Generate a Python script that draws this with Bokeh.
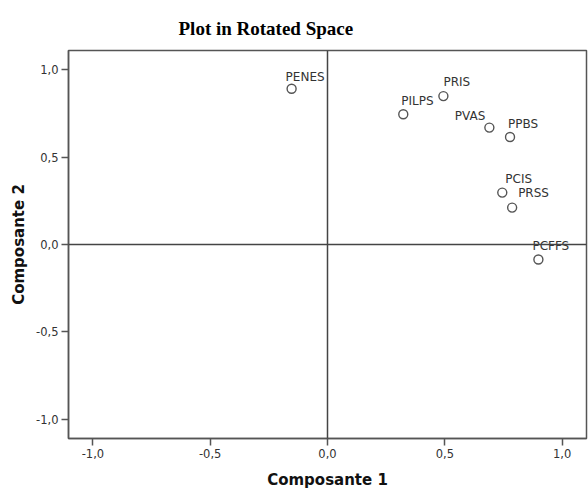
import math
from bokeh.plotting import figure
from bokeh.models import ColumnDataSource, Span, FixedTicker, CustomJSTickFormatter, Title
from bokeh.core.properties import value
from bokeh.embed import file_html
from bokeh.resources import INLINE

# ---- data (component loadings) ----
labels = ["PENES", "PRIS", "PILPS", "PVAS", "PPBS", "PCIS", "PRSS", "PCFFS"]
comp1 = [-0.153, 0.494, 0.323, 0.690, 0.778, 0.745, 0.787, 0.899]
comp2 = [0.891, 0.849, 0.745, 0.669, 0.615, 0.297, 0.211, -0.086]
tick_values = [-1.0, -0.5, 0.0, 0.5, 1.0]
title_text = "Plot in Rotated Space"

# ---- label placement (style only, screen pixels) ----
lab_dx = [-6, 0, -2, -4, -2, 3, 6, -6]
lab_dy = [-12, -14, -13, -12, -13, -14, -15, -14]
lab_align = ["left", "left", "left", "right", "left", "left", "left", "left"]

src = ColumnDataSource(dict(x=comp1, y=comp2, name=labels,
                            dx=lab_dx, dy=lab_dy, align=lab_align))

p = figure(width=588, height=495, output_backend="svg", toolbar_location=None,
           x_range=(-1.104, 1.104), y_range=(-1.11, 1.11),
           min_border_left=68, min_border_right=2, min_border_top=50, min_border_bottom=57)

p.title = Title(text=title_text, align="left", offset=110, standoff=23,
                text_font="Liberation Serif", text_font_size="19px",
                text_font_style="bold", text_color="#000000")

p.xgrid.visible = False
p.ygrid.visible = False
p.background_fill_color = "white"
p.border_fill_color = "white"
p.outline_line_color = "#555555"
p.outline_line_width = 1.5

fmt = CustomJSTickFormatter(code="return tick.toFixed(1).replace('.', ',');")
for ax in (p.xaxis[0], p.yaxis[0]):
    ax.ticker = FixedTicker(ticks=tick_values)
    ax.formatter = fmt
    ax.minor_tick_line_color = None
    ax.major_tick_out = 7
    ax.major_tick_in = 0
    ax.major_tick_line_color = "#555555"
    ax.major_tick_line_width = 1.5
    ax.axis_line_color = "#555555"
    ax.axis_line_width = 1.5
    ax.major_label_text_font = "DejaVu Sans"
    ax.major_label_text_font_size = "11.5px"
    ax.major_label_text_color = "#333333"
    ax.major_label_standoff = 3
    ax.axis_label_text_font = "DejaVu Sans"
    ax.axis_label_text_font_size = "15px"
    ax.axis_label_text_font_style = "bold"
    ax.axis_label_text_color = "#111111"

p.xaxis.axis_label = "Composante 1"
p.yaxis.axis_label = "Composante 2"
p.xaxis.axis_label_standoff = 10
p.yaxis.axis_label_standoff = 5

p.add_layout(Span(location=0, dimension="height", line_color="#444444", line_width=1.5))
p.add_layout(Span(location=0, dimension="width", line_color="#444444", line_width=1.5))

p.scatter("x", "y", source=src, size=9, marker="circle", fill_color=None,
          line_color="#555555", line_width=1.4)
p.text("x", "y", text="name", source=src, x_offset="dx", y_offset="dy",
       text_align="align", text_baseline="alphabetic",
       text_font=value("DejaVu Sans"), text_font_size="12px", text_color="#333333")

open("out.html", "w").write(file_html(p, INLINE))
